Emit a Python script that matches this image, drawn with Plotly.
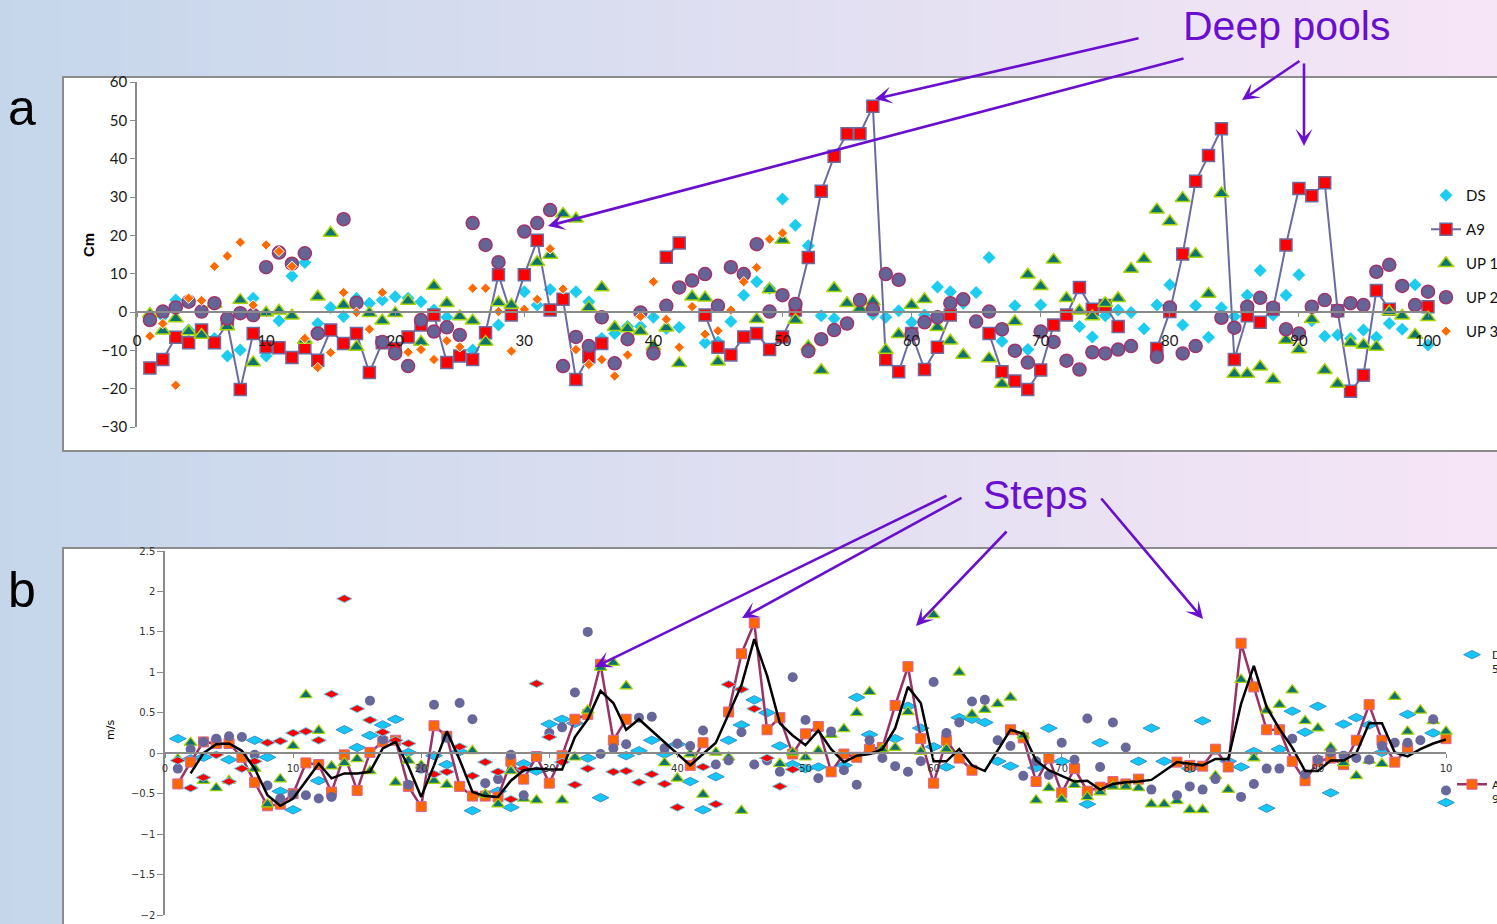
import plotly.graph_objects as go

W, H = 1497, 924

# ---------------- data ----------------
stations = list(range(1, 101))

# Panel a: bed elevation residuals (cm)
a_ds = [-1.5, -1.2, 3.1, -4.7, None, -6.9, -11.5, -9.9, 3.6, -11.5,
        -2.3, 9.4, 12.9, -3.0, 1.2, -1.2, 3.6, 2.3, 3.1, 4.0,
        3.6, 2.7, 0.5, -1.4, None, -9.9, -6.5, -3.4, -0.8, 5.3,
        1.8, 5.9, None, 5.3, 2.7, -6.9, -5.6, -3.8, -3.8, -1.4,
        -4.3, -4.0, None, -8.0, -7.8, -2.5, 4.4, 7.9, 6.2, 29.5,
        22.6, 17.3, -1.0, -1.7, None, None, -0.6, -1.4, 0.3, -2.7,
        -0.8, 6.5, 5.3, 2.3, 5.1, 14.2, -7.6, 1.6, -9.8, 1.8,
        None, None, -3.8, -6.5, -1.0, 0.5, -0.1, -4.4, 1.8, 7.1,
        -3.4, 1.6, -6.6, 1.1, -1.2, 4.4, 10.8, -0.8, 4.4, 9.7,
        -2.3, -6.3, -6.0, -6.9, -4.7, -6.6, -3.0, -4.5, 7.1, -8.6]

a_a9 = [-14.6, -12.4, -6.6, -8.0, -4.7, -8.0, -3.0, -20.2, -5.6, -9.1,
        -9.3, -11.9, -9.3, -12.6, -4.7, -8.2, -5.6, -15.8, -8.0, -9.5,
        -6.5, -3.4, -0.8, -13.2, -11.5, -12.4, -5.4, 9.7, -0.8, 9.7,
        18.7, 0.5, 3.3, -17.6, -11.7, -8.2, None, None, None, None,
        14.3, 18.0, None, -0.8, -9.2, -11.2, -6.5, -5.6, -9.8, -6.5,
        0.5, 14.2, 31.5, 40.6, 46.5, 46.5, 53.7, -12.4, -15.6, -5.6,
        -15.0, -9.2, -0.8, None, None, -5.6, -15.6, -18.0, -20.2, -15.1,
        -3.4, -0.8, 6.4, 0.7, 1.7, -3.8, None, None, -9.5, 0.1,
        15.1, 34.1, 40.8, 47.8, -12.4, -1.0, -2.7, 0.7, 17.5, 32.2,
        30.3, 33.7, 0.3, -20.7, -16.5, 5.6, 0.7, None, None, 1.4]

a_up1 = [-0.5, -4.9, -1.7, -5.1, -6.0, 2.1, -3.8, 3.1, -13.2, -0.2,
         0.3, -1.0, -7.3, 4.0, 20.6, 1.8, -9.1, -0.3, -2.3, -0.3,
         2.9, -7.8, 6.8, 2.3, -1.2, -2.3, -7.8, 2.5, 1.8, None,
         13.0, 14.9, 25.6, 24.3, 1.2, 6.4, -4.0, -4.3, -5.0, -9.0,
         -4.1, -13.4, 4.0, 3.7, -13.0, None, None, -1.9, 5.9, 18.8,
         -2.1, -9.0, -15.2, 6.2, 2.3, 1.0, 2.7, -9.9, -5.8, 1.8,
         3.3, -4.0, -7.5, -11.2, None, -12.1, -18.8, -2.5, 9.7, 6.7,
         13.6, 3.6, 0.3, -1.2, 2.3, 3.6, 11.2, 13.8, 26.7, 23.6,
         29.7, 15.1, 4.7, 30.9, -16.2, -16.2, -14.3, -17.6, -7.3, -9.8,
         -1.9, -15.2, -18.8, -8.0, -8.6, -9.1, 0.1, -1.0, -6.0, -1.4]

a_up2 = [-2.1, 0.1, 1.2, 2.7, 0.1, 2.3, -1.7, -0.3, -0.8, 11.7,
         15.5, 12.6, 15.3, -5.6, None, 24.2, 2.4, None, -7.8, -10.8,
         -14.1, -2.1, -5.1, -4.0, -6.0, 23.2, 17.5, 13.0, None, 21.0,
         23.2, 26.6, -14.1, -6.5, -8.9, -1.4, -13.4, -7.1, -0.1, -10.8,
         1.6, 6.4, 8.2, 9.9, 1.6, 11.7, 9.9, 17.7, 0.1, 4.4,
         2.1, -10.2, -7.1, -4.7, -3.0, 3.1, 0.7, 9.9, 8.4, -5.8,
         -2.7, -1.4, 2.3, 3.3, -2.5, 0.1, -4.5, -10.1, -13.2, -5.1,
         -7.8, -12.7, -15.0, -10.5, -10.8, -9.8, -8.9, None, -11.7, 1.2,
         -10.8, -8.9, None, -1.5, -4.1, 1.4, 3.7, 1.1, -4.5, -5.6,
         1.4, 3.1, 0.3, 2.3, 1.8, 10.5, 12.3, 6.8, 1.8, 5.3]

a_up3 = [-6.3, -3.0, -19.1, 3.6, 3.0, 11.9, 14.6, 18.2, 1.8, 17.5,
         15.8, 11.9, -6.9, -14.5, -10.6, 5.1, -0.1, -4.5, 5.1, None,
         -10.5, -9.8, -12.4, -7.5, -9.1, 6.2, 6.2, 0.1, -10.2, 0.7,
         3.3, 16.5, 6.0, -9.8, -13.7, -12.4, -16.7, -11.2, -1.2, 7.9,
         -1.9, -9.2, 1.4, -5.8, -4.9, 0.5, 7.9, 11.6, 19.0, 20.6] + [None] * 50

# Panel b: velocity (m/s)
b_ds = [0.18, -0.07, -0.05, None, -0.08, None, 0.16, -0.05, -0.47, -0.70,
        None, -0.34, None, 0.29, 0.07, 0.22, 0.35, 0.42, 0.01, None,
        -0.03, -0.14, 0.02, -0.71, None, -0.47, -0.67, -0.13, -0.22, 0.36,
        0.42, 0.37, -0.06, -0.55, None, -0.03, 0.03, 0.16, -0.01, 0.11,
        -0.35, -0.70, -0.29, 0.16, 0.35, 0.66, 0.50, 0.09, -0.14, -0.19,
        -0.17, None, -0.15, 0.69, 0.23, None, 0.18, 0.58, 0.31, 0.08,
        -0.17, 0.44, 0.42, 0.38, -0.10, -0.16, None, -0.18, 0.31, -0.10,
        None, -0.63, 0.13, None, None, -0.10, 0.31, -0.10, None, -0.19,
        0.40, None, -0.10, -0.17, 0.02, -0.68, 0.05, 0.52, 0.26, 0.58,
        -0.49, 0.36, 0.44, 0.35, 0.01, None, 0.48, None, 0.25, -0.61]

b_a9 = [-0.38, -0.11, 0.14, 0.12, 0.12, -0.05, -0.36, -0.65, -0.63, -0.50,
        -0.12, -0.14, -0.48, -0.02, -0.46, 0.01, 0.14, 0.16, -0.41, -0.66,
        0.34, 0.21, -0.41, -0.53, -0.53, -0.54, -0.10, -0.32, -0.04, -0.37,
        -0.03, 0.42, 0.48, 1.10, 0.16, 0.42, None, None, None, None,
        -0.15, 0.13, None, 0.51, 1.23, 1.61, 0.29, 0.44, -0.01, 0.24,
        0.33, -0.23, -0.01, -0.05, 0.05, 0.07, 0.59, 1.07, 0.18, -0.37,
        0.16, -0.06, -0.21, None, None, 0.29, 0.19, -0.35, -0.06, -0.49,
        -0.19, -0.47, -0.42, -0.35, -0.38, -0.32, None, None, -0.11, -0.15,
        -0.16, 0.05, -0.17, 1.36, 0.82, 0.29, 0.29, -0.10, -0.34, -0.10,
        -0.06, -0.14, 0.16, 0.60, 0.16, -0.11, 0.06, None, None, 0.18]

# 2-point moving-average trendline of A9
b_a9_avg = [None, -0.25, 0.0, 0.11, 0.12, 0.03, -0.19, -0.52, -0.65, -0.56,
            -0.34, -0.13, -0.31, -0.25, -0.25, -0.23, 0.06, 0.14, -0.16, -0.54,
            -0.15, 0.27, -0.08, -0.48, -0.53, -0.54, -0.34, -0.21, -0.19, -0.20,
            -0.20, 0.20, 0.42, 0.77, 0.62, 0.29, 0.42, None, None, None,
            -0.15, -0.01, 0.13, None, 0.84, 1.41, 0.96, 0.37, 0.22, 0.10,
            0.28, 0.05, -0.11, -0.03, -0.01, 0.05, 0.31, 0.82, 0.62, -0.10,
            -0.10, 0.05, -0.15, -0.22, None, 0.29, 0.24, -0.09, -0.21, -0.28,
            -0.35, -0.34, -0.45, -0.38, -0.36, -0.35, -0.33, None, -0.11, -0.13,
            -0.15, -0.07, -0.07, 0.61, 1.08, 0.57, 0.30, 0.07, -0.22, -0.22,
            -0.09, -0.09, 0.0, 0.37, 0.37, 0.01, -0.04, 0.05, 0.12, 0.17]

b_up1 = [-0.07, 0.13, -0.34, -0.43, -0.34, None, -0.19, -0.63, -0.32, 0.09,
         0.72, 0.28, -0.16, -0.12, -0.07, -0.22, None, -0.36, -0.09, -0.15,
         -0.34, -0.39, None, 0.03, -0.51, -0.63, -0.22, -0.56, -0.58, None,
         -0.58, -0.05, 0.53, 1.06, 1.12, 0.83, None, None, -0.12, -0.31,
         -0.01, -0.51, 0.01, -0.05, -0.71, None, None, -0.13, 0.01, -0.05,
         0.03, 0.23, 0.30, 0.50, 0.76, 0.05, 0.07, 0.51, 0.02, 1.71,
         0.05, 1.00, 0.48, 0.54, 0.61, 0.69, 0.22, -0.58, -0.43, -0.57,
         -0.39, -0.54, -0.48, -0.41, -0.41, -0.43, -0.63, -0.63, -0.59, -0.70,
         -0.70, -0.28, -0.45, 0.91, -0.06, 0.53, 0.60, 0.78, 0.40, 0.31,
         0.07, -0.12, -0.28, -0.09, -0.13, 0.70, 0.27, 0.53, 0.40, 0.27]

b_up2 = [-0.19, 0.05, 0.14, 0.18, 0.21, 0.20, -0.02, -0.40, -0.56, -0.51,
         -0.52, -0.56, -0.54, None, None, 0.65, 0.17, None, -0.39, -0.19,
         0.60, 0.19, 0.62, 0.42, -0.37, -0.32, -0.02, -0.52, None, 0.25,
         0.32, 0.75, 1.50, -0.01, 0.06, 0.11, 0.44, 0.45, 0.06, 0.12,
         0.09, 0.28, -0.14, -0.09, 0.26, -0.14, -0.09, -0.23, 0.94, 0.41,
         -0.31, 0.27, -0.21, -0.39, 0.16, -0.06, -0.16, -0.23, -0.10, 0.88,
         0.25, 0.38, 0.64, 0.66, 0.16, 0.09, -0.28, -0.10, -0.27, 0.13,
         -0.08, 0.43, -0.17, 0.38, 0.07, None, -0.45, None, -0.52, -0.41,
         -0.45, -0.32, None, -0.54, -0.38, -0.19, -0.19, 0.18, -0.26, -0.08,
         0.01, -0.03, -0.06, -0.08, 0.09, 0.13, 0.13, 0.16, 0.42, -0.46]

b_up3 = [-0.09, -0.43, -0.30, -0.02, -0.35, -0.19, -0.10, 0.13, 0.15, 0.25,
         0.27, 0.16, 0.73, 1.91, 0.55, 0.41, 0.26, 0.16, 0.12, None,
         -0.26, -0.23, 0.08, -0.28, -0.11, -0.23, -0.57, -0.19, 0.86, 0.20,
         -0.11, -0.39, -0.19, None, -0.23, -0.22, -0.36, -0.26, -0.38, -0.67,
         None, -0.17, -0.63, 0.85, 0.79, 0.55, -0.06, -0.41, -0.20] + [None] * 51

x_ticks = list(range(0, 101, 10))
a_x_ticktext = [str(v) for v in x_ticks]
b_x_ticktext = ["0", "10", "20", "30", "40", "50", "60", "70", "80", "90", "10"]

# ---------------- styling ----------------
PURPLE = "#6a0fd0"
AXIS_GREY = "#8a8a8a"

fig = go.Figure()

# Panel a
fig.add_trace(go.Scatter(x=stations, y=a_ds, mode="markers", name="DS",
                         marker=dict(symbol="diamond", size=10, color="#1ccdf0", line=dict(width=0)),
                         legend="legend", legendgroup="a_ds", cliponaxis=False, xaxis="x", yaxis="y"))
fig.add_trace(go.Scatter(x=stations, y=a_a9, mode="lines+markers", name="A9",
                         line=dict(color="#6b6ba3", width=2), connectgaps=False,
                         marker=dict(symbol="square", size=12, color="#ff0000",
                                     line=dict(width=1.5, color="#6b6ba3")),
                         legend="legend", legendgroup="a_a9", cliponaxis=False, xaxis="x", yaxis="y"))
fig.add_trace(go.Scatter(x=stations, y=a_up1, mode="markers", name="UP 1",
                         marker=dict(symbol="triangle-up", size=13, color="#0b7373",
                                     line=dict(width=1.5, color="#a8d400")),
                         legend="legend", legendgroup="a_up1", cliponaxis=False, xaxis="x", yaxis="y"))
fig.add_trace(go.Scatter(x=stations, y=a_up2, mode="markers", name="UP 2",
                         marker=dict(symbol="circle", size=13, color="#646496",
                                     line=dict(width=1.5, color="#a0336b")),
                         legend="legend", legendgroup="a_up2", cliponaxis=False, xaxis="x", yaxis="y"))
fig.add_trace(go.Scatter(x=stations, y=a_up3, mode="markers", name="UP 3",
                         marker=dict(symbol="diamond", size=8, color="#ff6a00",
                                     line=dict(width=1, color="#ffffff")),
                         legend="legend", legendgroup="a_up3", cliponaxis=False, xaxis="x", yaxis="y"))

# Panel b
fig.add_trace(go.Scatter(x=stations, y=b_ds, mode="markers", name="DS<br>5",
                         marker=dict(symbol="diamond-wide", size=12, color="#13c8f4",
                                     line=dict(width=1, color="#3a8fcf")),
                         legend="legend2", legendgroup="b_ds", cliponaxis=False, xaxis="x2", yaxis="y2"))
fig.add_trace(go.Scatter(x=stations, y=b_a9, mode="lines+markers", name="A9<br>9",
                         line=dict(color="#993366", width=2.5), connectgaps=False,
                         marker=dict(symbol="square", size=10, color="#ff6600",
                                     line=dict(width=1, color="#d4649a")),
                         legend="legend2", legendgroup="b_a9", cliponaxis=False, xaxis="x2", yaxis="y2"))
fig.add_trace(go.Scatter(x=stations, y=b_up1, mode="markers", name="UP 1",
                         marker=dict(symbol="triangle-up", size=11, color="#0b7373",
                                     line=dict(width=1.2, color="#a8d400")),
                         showlegend=False, cliponaxis=False, xaxis="x2", yaxis="y2"))
fig.add_trace(go.Scatter(x=stations, y=b_up2, mode="markers", name="UP 2",
                         marker=dict(symbol="circle", size=10, color="#67679b", line=dict(width=0)),
                         showlegend=False, cliponaxis=False, xaxis="x2", yaxis="y2"))
fig.add_trace(go.Scatter(x=stations, y=b_up3, mode="markers", name="UP 3",
                         marker=dict(symbol="diamond-wide", size=11, color="#ff0000",
                                     line=dict(width=1, color="#5fd0f0")),
                         showlegend=False, cliponaxis=False, xaxis="x2", yaxis="y2"))
fig.add_trace(go.Scatter(x=stations, y=b_a9_avg, mode="lines", name="2 per. Mov. Avg. (A9)",
                         line=dict(color="#000000", width=2.5), connectgaps=True,
                         showlegend=False, cliponaxis=False, xaxis="x2", yaxis="y2"))

# ---------------- background ----------------
def lerp(c0, c1, t):
    return tuple(round(a + (b - a) * t) for a, b in zip(c0, c1))

stops = [(0.0, (197, 214, 235)), (0.5, (223, 223, 241)), (1.0, (246, 229, 246))]
shapes = []
n_strips = 120
for i in range(n_strips):
    t = (i + 0.5) / n_strips
    if t <= 0.5:
        c = lerp(stops[0][1], stops[1][1], t / 0.5)
    else:
        c = lerp(stops[1][1], stops[2][1], (t - 0.5) / 0.5)
    shapes.append(dict(type="rect", xref="paper", yref="paper", layer="below",
                       x0=i / n_strips, x1=(i + 1) / n_strips + 0.002, y0=0, y1=1,
                       line=dict(width=0), fillcolor="rgb(%d,%d,%d)" % c))

# white chart panels
for (x0, y0, x1, y1) in [(63, 77, 1505, 451), (63, 548, 1505, 935)]:
    shapes.append(dict(type="rect", xref="paper", yref="paper", layer="below",
                       x0=x0 / W, x1=x1 / W, y0=1 - y1 / H, y1=1 - y0 / H,
                       line=dict(width=2, color="#8c8c8c"), fillcolor="#ffffff"))

# ---------------- axes ----------------
ya_dom = [1 - 427 / H, 1 - 82 / H]
yb_dom = [1 - 915 / H, 1 - 551 / H]
xa_pos = ya_dom[0] + (0 - (-30)) / 90 * (ya_dom[1] - ya_dom[0])
xb_pos = yb_dom[0] + (0 - (-2)) / 4.5 * (yb_dom[1] - yb_dom[0])

tick_font_a = dict(family="Lato", size=15, color="#1a1a1a")
tick_font_b = dict(family="DejaVu Sans", size=10, color="#333333")

layout = dict(
    width=W, height=H,
    margin=dict(l=0, r=0, t=0, b=0, autoexpand=False),
    paper_bgcolor="#ffffff", plot_bgcolor="rgba(0,0,0,0)",
    shapes=shapes,
    xaxis=dict(domain=[137 / W, 1428 / W], range=[0, 100], anchor="free", position=xa_pos,
               tickvals=x_ticks, ticktext=a_x_ticktext, ticks="outside", ticklen=4,
               tickcolor=AXIS_GREY, showline=True, linecolor=AXIS_GREY, linewidth=1.5,
               showgrid=False, zeroline=False, tickfont=tick_font_a, ticklabelstandoff=11),
    yaxis=dict(domain=ya_dom, range=[-30, 60], anchor="x", dtick=10, ticks="outside", ticklen=5,
               tickcolor=AXIS_GREY, showline=True, linecolor=AXIS_GREY, linewidth=1.5,
               showgrid=False, zeroline=False, tickfont=tick_font_a),
    xaxis2=dict(domain=[165 / W, 1446 / W], range=[0, 100], anchor="free", position=xb_pos,
                tickvals=x_ticks, ticktext=b_x_ticktext, ticks="outside", ticklen=4,
                tickcolor=AXIS_GREY, showline=True, linecolor=AXIS_GREY, linewidth=1.5,
                showgrid=False, zeroline=False, tickfont=tick_font_b, ticklabelstandoff=2),
    yaxis2=dict(domain=yb_dom, range=[-2, 2.5], anchor="x2", dtick=0.5, ticks="outside", ticklen=6,
                tickcolor=AXIS_GREY, showline=True, linecolor=AXIS_GREY, linewidth=1.5,
                showgrid=False, zeroline=False, tickfont=tick_font_b),
    legend=dict(x=1426 / W, y=1 - 179 / H, xanchor="left", yanchor="top",
                bgcolor="rgba(0,0,0,0)", font=dict(family="Lato", size=15, color="#111111"),
                tracegroupgap=11.5),
    legend2=dict(x=1452 / W, y=1 - 641 / H, xanchor="left", yanchor="top", valign="top",
                 bgcolor="rgba(0,0,0,0)", font=dict(family="DejaVu Sans", size=11, color="#222222"),
                 tracegroupgap=98),
)
fig.update_layout(**layout)

# ---------------- text & arrows ----------------
def P(x, y):
    return x / W, 1 - y / H

anns = []
for txt, (px, py), size in [("a", (22, 108), 50), ("b", (22, 590), 50)]:
    x, y = P(px, py)
    anns.append(dict(text=txt, x=x, y=y, xref="paper", yref="paper", showarrow=False,
                     xanchor="center", yanchor="middle",
                     font=dict(family="Liberation Sans", size=size, color="#000000")))
for txt, (px, py) in [("Deep pools", (1286, 26)), ("Steps", (1035, 495))]:
    x, y = P(px, py)
    anns.append(dict(text=txt, x=x, y=y, xref="paper", yref="paper", showarrow=False,
                     xanchor="center", yanchor="middle",
                     font=dict(family="Liberation Sans", size=41, color=PURPLE)))

x, y = P(88, 245)
anns.append(dict(text="<b>Cm</b>", x=x, y=y, xref="paper", yref="paper", showarrow=False,
                 xanchor="center", yanchor="middle", textangle=-90,
                 font=dict(family="Liberation Sans", size=15, color="#000000")))
x, y = P(110, 730)
anns.append(dict(text="m/s", x=x, y=y, xref="paper", yref="paper", showarrow=False,
                 xanchor="center", yanchor="middle", textangle=-90,
                 font=dict(family="DejaVu Sans", size=11, color="#000000")))

# (tail, head) pixel pairs for the pointer arrows
arrows = [((1140, 38), (875, 99)), ((1185, 58), (548, 226)),
          ((1301, 60), (1242, 100)), ((1304, 62), (1304, 146)),
          ((948, 495), (595, 667)), ((963, 497), (742, 618)),
          ((1008, 530), (916, 626)), ((1100, 497), (1203, 619))]
for (tx, ty), (hx, hy) in arrows:
    x, y = P(hx, hy)
    anns.append(dict(text="", x=x, y=y, xref="paper", yref="paper", showarrow=True,
                     ax=tx - hx, ay=ty - hy, axref="pixel", ayref="pixel",
                     arrowhead=3, arrowsize=1.1, arrowwidth=2.6, arrowcolor=PURPLE, standoff=0))
fig.update_layout(annotations=anns)

fig.write_html("out.html")
